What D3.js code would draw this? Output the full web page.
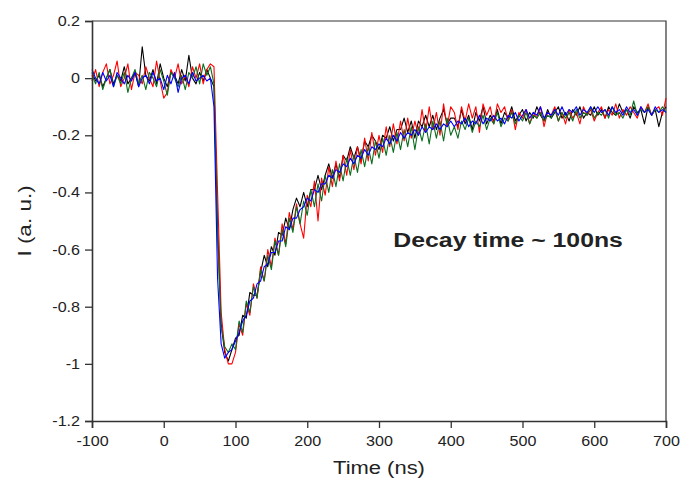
<!DOCTYPE html>
<html lang="en">
<head>
    <meta charset="UTF-8">
    <title>Decay</title>
    <script src="https://d3js.org/d3.v7.min.js" charset="utf-8"></script>
    <style>
        body{margin:0;background:#fff;}
        text{font-family:Arial,"Liberation Sans",sans-serif;fill:#222;}
    </style>
</head>
<body>
    <svg></svg>
    <script>
        //sample times (ns), one point every 5 ns from -100 to 700
        var times = d3.range(-100, 701, 5);

        var blackRun = [0.02,-0.01,0.01,-0.03,0.00,0.03,-0.02,0.01,-0.01,0.04,-0.02,0.00,0.02,-0.03,0.11,0.01,-0.01,0.03,-0.02,0.05,0.00,-0.03,0.02,0.01,-0.02,0.03,-0.01,0.08,0.00,-0.02,0.02,-0.01,0.03,0.00,
            -0.03,-0.52,-0.86,-0.96,-0.99,-0.95,
            -0.91,-0.90,-0.83,-0.84,-0.75,-0.76,-0.76,-0.68,-0.62,-0.66,-0.59,-0.62,-0.54,-0.55,-0.49,-0.53,-0.46,-0.42,-0.45,-0.40,-0.45,-0.39,-0.39,-0.34,-0.39,-0.34,-0.30,-0.35,-0.30,-0.35,-0.27,-0.29,-0.24,-0.28,-0.24,-0.29,-0.22,-0.24,-0.20,-0.22,-0.25,-0.20,-0.21,-0.17,-0.22,-0.18,-0.18,-0.14,-0.19,-0.15,-0.21,-0.15,-0.17,-0.13,-0.17,-0.13,-0.18,-0.14,-0.11,-0.16,-0.14,
            -0.14,-0.17,-0.11,-0.16,-0.13,-0.18,-0.12,-0.15,-0.10,-0.16,-0.13,-0.15,-0.11,-0.16,-0.12,-0.14,-0.10,-0.15,-0.13,-0.11,
            -0.15,-0.12,-0.14,-0.10,-0.13,-0.15,-0.11,-0.14,-0.12,-0.10,-0.14,-0.12,-0.15,-0.11,-0.13,-0.10,-0.14,-0.12,-0.13,-0.10,
            -0.13,-0.11,-0.14,-0.10,-0.12,-0.13,-0.09,-0.12,-0.11,-0.14,-0.10,-0.12,-0.11,-0.16,-0.10,-0.13,-0.11,-0.17,-0.12,-0.10];
        var redRun = [-0.01,0.03,-0.03,0.02,0.05,-0.02,0.01,0.06,-0.03,0.00,0.05,-0.04,0.02,0.01,-0.02,0.04,0.00,-0.03,0.06,-0.01,-0.07,-0.05,0.03,0.00,0.05,-0.02,0.01,-0.03,0.04,0.00,0.05,-0.02,0.03,0.05,
            0.04,-0.40,-0.82,-0.95,-1.00,-1.00,
            -0.96,-0.86,-0.90,-0.79,-0.83,-0.72,-0.77,-0.66,-0.71,-0.60,-0.66,-0.56,-0.62,-0.51,-0.58,-0.47,-0.53,-0.44,-0.51,-0.56,-0.41,-0.45,-0.36,-0.50,-0.35,-0.41,-0.31,-0.38,-0.29,-0.36,-0.27,-0.34,-0.25,-0.32,-0.24,-0.30,-0.21,-0.29,-0.19,-0.27,-0.20,-0.26,-0.17,-0.24,-0.16,-0.23,-0.15,-0.22,-0.14,-0.21,-0.15,-0.20,-0.11,-0.19,-0.10,-0.18,-0.12,-0.20,-0.09,-0.17,-0.10,
            -0.12,-0.18,-0.10,-0.15,-0.09,-0.14,-0.10,-0.19,-0.09,-0.13,-0.10,-0.16,-0.09,-0.12,-0.10,-0.15,-0.11,-0.18,-0.12,-0.14,
            -0.11,-0.16,-0.12,-0.14,-0.10,-0.17,-0.12,-0.13,-0.10,-0.15,-0.12,-0.16,-0.11,-0.14,-0.12,-0.16,-0.10,-0.13,-0.11,-0.15,
            -0.12,-0.10,-0.14,-0.11,-0.13,-0.09,-0.14,-0.11,-0.13,-0.10,-0.12,-0.14,-0.10,-0.12,-0.09,-0.13,-0.11,-0.10,-0.13,-0.07];
        var greenRun = [0.01,-0.02,0.02,-0.04,0.00,0.03,-0.03,0.01,-0.02,0.02,-0.05,0.00,0.03,-0.02,0.01,-0.04,0.02,0.00,-0.03,0.03,-0.01,-0.06,0.02,0.00,-0.03,0.01,-0.04,0.02,0.00,0.04,-0.02,0.05,0.01,0.04,
            -0.02,-0.55,-0.87,-0.94,-0.96,-0.93,
            -0.95,-0.85,-0.89,-0.78,-0.82,-0.73,-0.77,-0.67,-0.71,-0.62,-0.67,-0.57,-0.62,-0.53,-0.59,-0.49,-0.54,-0.45,-0.51,-0.43,-0.48,-0.39,-0.45,-0.37,-0.43,-0.34,-0.40,-0.32,-0.38,-0.30,-0.36,-0.28,-0.34,-0.27,-0.33,-0.25,-0.31,-0.24,-0.30,-0.22,-0.28,-0.21,-0.27,-0.20,-0.26,-0.19,-0.25,-0.18,-0.24,-0.17,-0.25,-0.17,-0.22,-0.16,-0.23,-0.15,-0.21,-0.15,-0.22,-0.14,-0.20,
            -0.17,-0.21,-0.15,-0.18,-0.14,-0.19,-0.15,-0.17,-0.13,-0.18,-0.14,-0.16,-0.12,-0.17,-0.14,-0.15,-0.12,-0.16,-0.13,-0.15,
            -0.12,-0.16,-0.13,-0.14,-0.12,-0.15,-0.13,-0.14,-0.11,-0.15,-0.12,-0.14,-0.12,-0.15,-0.11,-0.14,-0.12,-0.13,-0.10,-0.14,
            -0.12,-0.13,-0.11,-0.14,-0.10,-0.13,-0.12,-0.14,-0.11,-0.13,-0.08,-0.13,-0.11,-0.12,-0.10,-0.13,-0.11,-0.12,-0.10,-0.12];
        var blueRun = [0.03,0.00,-0.02,0.02,-0.01,0.01,-0.03,0.02,0.00,-0.02,0.01,-0.01,0.02,-0.03,0.00,0.01,-0.02,0.02,-0.01,0.00,-0.04,0.01,-0.02,0.02,-0.05,0.00,0.01,-0.02,0.02,-0.01,0.00,0.01,-0.01,0.00,
            -0.10,-0.70,-0.93,-0.98,-0.96,-0.95,
            -0.92,-0.89,-0.85,-0.83,-0.78,-0.77,-0.72,-0.71,-0.66,-0.65,-0.61,-0.61,-0.57,-0.57,-0.52,-0.53,-0.49,-0.49,-0.46,-0.45,-0.42,-0.43,-0.39,-0.40,-0.37,-0.37,-0.34,-0.35,-0.32,-0.33,-0.30,-0.31,-0.28,-0.30,-0.27,-0.28,-0.25,-0.27,-0.24,-0.25,-0.23,-0.24,-0.21,-0.23,-0.20,-0.22,-0.19,-0.21,-0.19,-0.20,-0.18,-0.20,-0.17,-0.19,-0.17,-0.18,-0.16,-0.18,-0.16,-0.17,-0.15,
            -0.17,-0.15,-0.16,-0.14,-0.17,-0.15,-0.16,-0.13,-0.16,-0.14,-0.15,-0.13,-0.15,-0.14,-0.16,-0.13,-0.14,-0.12,-0.15,-0.13,
            -0.11,-0.14,-0.12,-0.13,-0.10,-0.14,-0.12,-0.13,-0.11,-0.13,-0.10,-0.13,-0.11,-0.12,-0.10,-0.13,-0.11,-0.12,-0.10,-0.12,
            -0.10,-0.12,-0.11,-0.13,-0.10,-0.12,-0.11,-0.13,-0.10,-0.12,-0.11,-0.13,-0.10,-0.12,-0.11,-0.13,-0.10,-0.12,-0.11,-0.12];

        var runs = [
            {name:"black", color:"#000000", values:blackRun},
            {name:"red", color:"#ff0000", values:redRun},
            {name:"green", color:"#0a6e1e", values:greenRun},
            {name:"blue", color:"#0000ff", values:blueRun}
        ];
        var xTicks = [-100,0,100,200,300,400,500,600,700];
        var yTicks = [0.2,0,-0.2,-0.4,-0.6,-0.8,-1,-1.2];
        var note = {x:320, y:-0.59, text:"Decay time ~ 100ns"};

        var width = 683, height = 482;
        var margin = {top:21, right:17, bottom:61, left:92};

        var svg = d3.select("svg")
            .attr("width", width)
            .attr("height", height);

        var x = d3.scaleLinear().domain([-100,700]).range([margin.left, width-margin.right]);
        var y = d3.scaleLinear().domain([-1.2,0.2]).range([height-margin.bottom, margin.top]);

        //the source font is wider than Arial, so stretch texts sideways
        function widen(sel, factor){
            sel.each(function(){
                var w = this.getComputedTextLength();
                d3.select(this)
                    .attr("textLength", w*factor)
                    .attr("lengthAdjust","spacingAndGlyphs");
            });
        }

        //frame on top and right
        svg.append("path")
            .attr("d", "M"+x(-100)+","+y(0.2)+"H"+x(700)+"V"+y(-1.2))
            .attr("fill","none")
            .attr("stroke","#333")
            .attr("stroke-width",1.2);

        //data lines
        var line = d3.line()
            .x(function(d,i){return x(times[i]);})
            .y(function(d){return y(d);});
        svg.append("g")
            .selectAll("path")
            .data(runs)
            .enter()
            .append("path")
            .attr("d", function(r){return line(r.values);})
            .attr("fill","none")
            .attr("stroke", function(r){return r.color;})
            .attr("stroke-width",1.1)
            .attr("stroke-linejoin","round");

        //axes
        var xAxis = svg.append("g")
            .attr("transform","translate(0,"+y(-1.2)+")")
            .call(d3.axisBottom(x).tickValues(xTicks).tickSize(7).tickPadding(5).tickFormat(function(d){return String(d);}));
        var yAxis = svg.append("g")
            .attr("transform","translate("+x(-100)+",0)")
            .call(d3.axisLeft(y).tickValues(yTicks).tickSize(7).tickPadding(5).tickFormat(function(d){return String(+d.toFixed(1));}));
        [xAxis,yAxis].forEach(function(a){
            a.select(".domain").attr("stroke","#333").attr("stroke-width",1.6);
            a.selectAll(".tick line").attr("stroke","#333").attr("stroke-width",1.3);
            a.selectAll(".tick text").attr("font-size",14).attr("font-family","Arial,'Liberation Sans',sans-serif").attr("fill","#333");
            widen(a.selectAll(".tick text"), 1.15);
        });
        xAxis.selectAll(".tick text").attr("dy","0.95em");

        //axis titles
        var xTitle = svg.append("text")
            .attr("x",(x(-100)+x(700))/2)
            .attr("y",474)
            .attr("text-anchor","middle")
            .attr("font-size",18)
            .text("Time (ns)");
        var yTitle = svg.append("text")
            .attr("transform","translate(31,"+((y(0.2)+y(-1.2))/2)+") rotate(-90)")
            .attr("text-anchor","middle")
            .attr("font-size",18)
            .text("I (a. u.)");
        widen(xTitle, 1.22);
        widen(yTitle, 1.25);

        //annotation
        var noteText = svg.append("text")
            .attr("x",x(note.x))
            .attr("y",y(note.y))
            .attr("font-size",20)
            .attr("font-weight","bold")
            .attr("fill","#111")
            .text(note.text);
        widen(noteText, 1.24);
    </script>
</body>
</html>
